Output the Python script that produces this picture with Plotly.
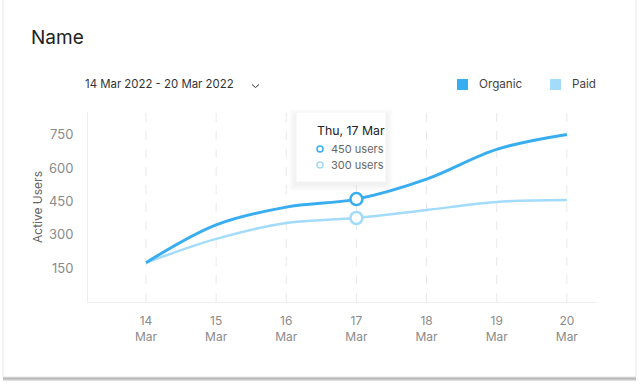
import plotly.graph_objects as go

# ---- data ----
days = [14, 15, 16, 17, 18, 19, 20]
day_labels = ["14<br>Mar", "15<br>Mar", "16<br>Mar", "17<br>Mar", "18<br>Mar", "19<br>Mar", "20<br>Mar"]
organic = [175, 345, 425, 461, 551, 685, 752]
paid = [175, 282, 354, 376, 412, 448, 457]
y_ticks = [150, 300, 450, 600, 750]
highlight_idx = 3
tooltip_title = "Thu, 17 Mar"
tooltip_lines = ["450 users", "300 users"]
series_names = ["Organic", "Paid"]
date_range = "14 Mar 2022 - 20 Mar 2022"
chart_title = "Name"

C_ORG = "#38AEF0"
C_PAID = "#A3DBFB"
FONT = "Inter, Noto Sans, sans-serif"

W, H = 640, 385
L, R, T, B = 88, 597, 112, 302


def px(x):
    return (x - L) / (R - L)


def py(y):
    return (B - y) / (B - T)


fig = go.Figure()

fig.add_trace(go.Scatter(x=days, y=paid, mode="lines", name=series_names[1],
                         line=dict(color=C_PAID, width=2.5, shape="spline", smoothing=1.0),
                         hoverinfo="skip"))
fig.add_trace(go.Scatter(x=days, y=organic, mode="lines", name=series_names[0],
                         line=dict(color=C_ORG, width=3, shape="spline", smoothing=1.0),
                         hoverinfo="skip"))
fig.add_trace(go.Scatter(x=[days[highlight_idx]], y=[paid[highlight_idx]], mode="markers",
                         marker=dict(size=12, color="white", line=dict(color=C_PAID, width=2.5)),
                         hoverinfo="skip"))
fig.add_trace(go.Scatter(x=[days[highlight_idx]], y=[organic[highlight_idx]], mode="markers",
                         marker=dict(size=12, color="white", line=dict(color=C_ORG, width=2.5)),
                         hoverinfo="skip"))

shapes = []
# card shadow + card
for i, op in enumerate([0.08, 0.10, 0.12]):
    shapes.append(dict(type="rect", xref="paper", yref="paper", layer="below",
                       x0=px(3), x1=px(636), y0=py(-10), y1=py(378 + i + 1),
                       line=dict(width=0), fillcolor="rgba(0,0,0,%s)" % op))
shapes.append(dict(type="rect", xref="paper", yref="paper", layer="below",
                   x0=px(3), x1=px(636), y0=py(-10), y1=py(377),
                   line=dict(color="#E6E6E6", width=1), fillcolor="white"))

# vertical dashed grid lines
for d in days:
    shapes.append(dict(type="line", xref="x", yref="paper", layer="below",
                       x0=d, x1=d, y0=0, y1=1,
                       line=dict(color="#E9E9E9", width=1, dash="dash")))

# tooltip shadow + box
tx0, tx1, ty0, ty1 = 296, 386, 112, 182
for g in range(7, 0, -1):
    shapes.append(dict(type="rect", xref="paper", yref="paper",
                       x0=px(tx0 - g), x1=px(tx1 + g), y0=py(ty1 + g + 2), y1=py(ty0 - g + 4),
                       line=dict(width=0), fillcolor="rgba(0,0,0,0.007)"))
shapes.append(dict(type="rect", xref="paper", yref="paper",
                   x0=px(tx0), x1=px(tx1), y0=py(ty1), y1=py(ty0),
                   line=dict(color="#F4F4F4", width=1), fillcolor="white"))
for cy, col in [(149, C_ORG), (165, C_PAID)]:
    shapes.append(dict(type="circle", xref="paper", yref="paper",
                       x0=px(317), x1=px(323), y0=py(cy + 3), y1=py(cy - 3),
                       line=dict(color=col, width=1.5), fillcolor="white"))

# legend squares
for lx, col in [(457, C_ORG), (550, C_PAID)]:
    shapes.append(dict(type="rect", xref="paper", yref="paper",
                       x0=px(lx), x1=px(lx + 11), y0=py(90), y1=py(79),
                       line=dict(width=0), fillcolor=col))

# chevron
shapes.append(dict(type="path", xref="paper", yref="paper",
                   path="M %f %f L %f %f L %f %f" % (px(252), py(84.5), px(255.5), py(87.5), px(259), py(84.5)),
                   line=dict(color="#333333", width=1)))

annotations = [
    dict(text=chart_title, x=px(29), y=py(38), xref="paper", yref="paper",
         xanchor="left", yanchor="middle", showarrow=False,
         font=dict(size=19, color="#222222", family=FONT)),
    dict(text=date_range, x=px(83), y=py(84), xref="paper", yref="paper",
         xanchor="left", yanchor="middle", showarrow=False,
         font=dict(size=11.4, color="#333333", family=FONT)),
    dict(text=series_names[0], x=px(477), y=py(84), xref="paper", yref="paper",
         xanchor="left", yanchor="middle", showarrow=False,
         font=dict(size=11.7, color="#444444", family=FONT)),
    dict(text=series_names[1], x=px(570), y=py(84), xref="paper", yref="paper",
         xanchor="left", yanchor="middle", showarrow=False,
         font=dict(size=11.7, color="#444444", family=FONT)),
    dict(text=tooltip_title, x=px(315), y=py(130), xref="paper", yref="paper",
         xanchor="left", yanchor="middle", showarrow=False,
         font=dict(size=12.3, color="#222222", family=FONT)),
    dict(text=tooltip_lines[0], x=px(329), y=py(149), xref="paper", yref="paper",
         xanchor="left", yanchor="middle", showarrow=False,
         font=dict(size=11, color="#666666", family=FONT)),
    dict(text=tooltip_lines[1], x=px(329), y=py(165), xref="paper", yref="paper",
         xanchor="left", yanchor="middle", showarrow=False,
         font=dict(size=11, color="#666666", family=FONT)),
]

fig.update_layout(
    width=W, height=H,
    margin=dict(l=L, r=W - R, t=T, b=H - B, pad=0, autoexpand=False),
    paper_bgcolor="white", plot_bgcolor="rgba(0,0,0,0)",
    showlegend=False,
    shapes=shapes, annotations=annotations,
    font=dict(family=FONT),
    hovermode=False,
)
fig.update_xaxes(range=[13.173, 20.43], tickvals=days, ticktext=day_labels,
                 showgrid=False, zeroline=False, showline=True, linecolor="#EEEEEE",
                 linewidth=1, ticks="", ticklabelstandoff=8, automargin=False,
                 tickfont=dict(size=12, color="#8A8A8A", family=FONT), fixedrange=True)
fig.update_yaxes(range=[-2, 853], tickvals=y_ticks, showgrid=False, zeroline=False,
                 showline=True, linecolor="#EEEEEE", linewidth=1, ticks="",
                 ticklabelstandoff=11, automargin=False,
                 tickfont=dict(size=13, color="#8A8A8A", family=FONT),
                 title=dict(text="Active Users", standoff=3,
                            font=dict(size=12, color="#666666", family=FONT)),
                 fixedrange=True)

fig.write_html("out.html", config={"displayModeBar": False},
               post_script="document.body.style.margin='0';document.body.style.overflow='hidden';")
